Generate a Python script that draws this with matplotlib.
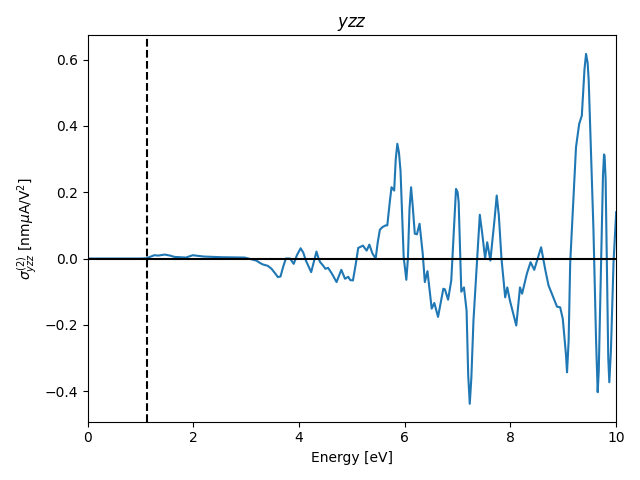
import matplotlib
matplotlib.use("Agg")
import matplotlib.pyplot as plt
import numpy as np

# energies (eV) and shift current values
energy = [0.0, 1.0, 1.12, 1.20, 1.26, 1.34, 1.46, 1.56, 1.64, 1.86, 1.99, 2.2, 2.53,
          2.97, 3.09, 3.19, 3.28, 3.32, 3.41, 3.48, 3.55, 3.60, 3.65, 3.70, 3.75,
          3.83, 3.90, 3.96, 4.03, 4.08, 4.13, 4.23, 4.28, 4.33, 4.37, 4.40, 4.45,
          4.50, 4.55, 4.62, 4.71, 4.76, 4.80, 4.87, 4.93, 4.97, 5.02, 5.07, 5.12,
          5.21, 5.25, 5.28, 5.33, 5.39, 5.45, 5.49, 5.53, 5.58, 5.64, 5.67, 5.72,
          5.75, 5.80, 5.83, 5.86, 5.89, 5.92, 5.98, 6.03, 6.06, 6.09, 6.12, 6.15,
          6.19, 6.23, 6.28, 6.34, 6.38, 6.43, 6.51, 6.56, 6.63, 6.73, 6.76, 6.82,
          6.88, 6.94, 6.97, 7.00, 7.02, 7.07, 7.12, 7.17, 7.20, 7.23, 7.26, 7.30,
          7.37, 7.42, 7.47, 7.52, 7.56, 7.62, 7.70, 7.74, 7.78, 7.83, 7.90, 7.94,
          7.99, 8.11, 8.18, 8.22, 8.31, 8.38, 8.45, 8.58, 8.66, 8.72, 8.81, 8.88,
          8.94, 8.99, 9.05, 9.07, 9.10, 9.13, 9.24, 9.30, 9.35, 9.40, 9.43, 9.46,
          9.48, 9.57, 9.62, 9.65, 9.67, 9.70, 9.75, 9.77, 9.78, 9.80, 9.85, 9.87,
          9.90, 9.95, 10.0]
sigma = [0.0, 0.0, 0.001, 0.006, 0.01, 0.009, 0.012, 0.009, 0.005, 0.003, 0.01, 0.006, 0.004,
         0.003, -0.002, -0.006, -0.015, -0.018, -0.022, -0.031, -0.045, -0.056, -0.054, -0.025, 0.0,
         0.0, -0.016, 0.01, 0.031, 0.018, -0.006, -0.041, -0.01, 0.021, 0.0, -0.011, -0.02,
         -0.031, -0.028, -0.045, -0.071, -0.05, -0.034, -0.061, -0.055, -0.065, -0.066, -0.02, 0.032,
         0.039, 0.03, 0.024, 0.042, 0.015, 0.0, 0.05, 0.087, 0.095, 0.1, 0.1, 0.175,
         0.215, 0.205, 0.30, 0.346, 0.32, 0.265, 0.004, -0.064, 0.0, 0.15, 0.215, 0.16,
         0.075, 0.073, 0.105, 0.015, -0.071, -0.038, -0.151, -0.134, -0.176, -0.091, -0.093, -0.124,
         -0.066, 0.12, 0.21, 0.20, 0.17, -0.1, -0.087, -0.157, -0.35, -0.438, -0.36, -0.187,
         0.0, 0.132, 0.07, 0.0, 0.049, -0.006, 0.12, 0.19, 0.13, 0.0, -0.117, -0.087,
         -0.127, -0.202, -0.087, -0.106, -0.046, -0.011, -0.034, 0.034, -0.035, -0.081, -0.117, -0.145,
         -0.147, -0.182, -0.29, -0.343, -0.25, -0.013, 0.336, 0.406, 0.431, 0.57, 0.617, 0.59,
         0.537, 0.087, -0.25, -0.403, -0.34, -0.12, 0.25, 0.314, 0.31, 0.24, -0.30, -0.373,
         -0.28, -0.01, 0.14]

gap = 1.12

fig = plt.figure(figsize=(6.4, 4.8), dpi=100)
plt.plot(energy, sigma, lw=1.5)
plt.axhline(0, color='k', lw=1.5)
plt.axvline(gap, color='k', ls='--', lw=1.5)
plt.xlim(0, 10)
plt.ylim(-0.492, 0.673)
plt.title('$yzz$')
plt.xlabel('Energy [eV]')
plt.ylabel(r'$\sigma^{(2)}_{yzz}$ [nm$\mu$A/V$^2$]')
plt.tight_layout()
fig.savefig('out.png', dpi=100)
